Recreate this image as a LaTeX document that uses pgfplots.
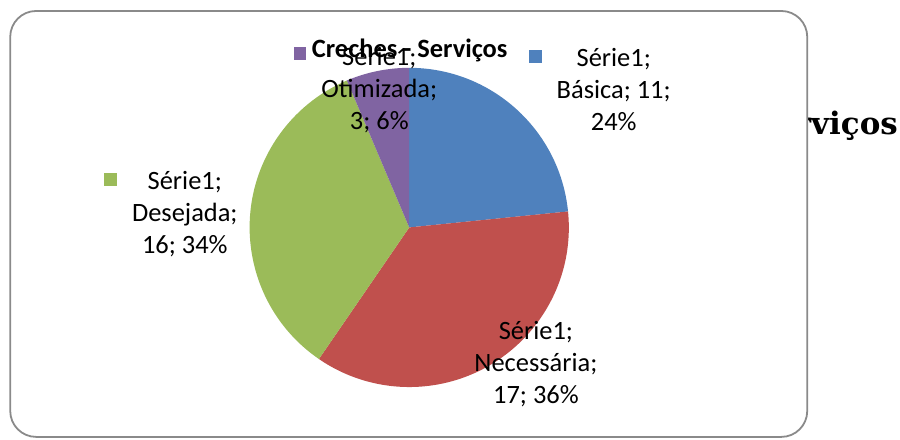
\documentclass[border=0pt]{standalone}
\usepackage{fontspec}
\setmainfont{Carlito}
\newfontfamily\bgserif{DejaVu Serif}
\usepackage{pgfplots}
\usepackage{pgfplotstable}
\pgfplotsset{compat=1.18}
\definecolor{pieblue}{HTML}{4F81BD}
\definecolor{piered}{HTML}{C0504D}
\definecolor{piegreen}{HTML}{9BBB59}
\definecolor{piepurple}{HTML}{8064A2}
\definecolor{framegray}{HTML}{8A8A8A}
\tikzset{lbl/.style={align=center, font=\fontsize{26.5bp}{32bp}\selectfont, text=black, inner sep=0pt}}

\pgfplotstableread{
name value color
Basica 11 pieblue
Necessaria 17 piered
Desejada 16 piegreen
Otimizada 3 piepurple
}\piedata

\begin{document}
\def\total{0}
\pgfplotsforeachungrouped \i in {0,...,3}{%
  \pgfplotstablegetelem{\i}{value}\of\piedata
  \pgfmathsetmacro\total{\total+\pgfplotsretval}}%
\begin{tikzpicture}
\begin{axis}[
  name=ax,
  scale only axis, width=900bp, height=441bp,
  xmin=0, xmax=900, ymin=0, ymax=441,
  hide axis, clip=false,
]
% background document text partly hidden by the chart
\node[anchor=base east, inner sep=0pt, font=\bgserif\bfseries\fontsize{31bp}{34bp}\selectfont] at (axis cs:898,306) {Serviços};
% chart area
\draw[framegray, line width=1.8bp, fill=white, rounded corners=26bp] (axis cs:8,430) rectangle (axis cs:807,3);
% pie slices from the data
\def\angstart{90}
\pgfplotsforeachungrouped \i in {0,...,3}{%
  \pgfplotstablegetelem{\i}{value}\of\piedata \let\v\pgfplotsretval
  \pgfplotstablegetelem{\i}{color}\of\piedata \let\c\pgfplotsretval
  \pgfmathsetmacro\angend{\angstart-360*\v/\total}%
  \edef\temp{\noexpand\fill[\c] (axis cs:408,213) -- ++(\angstart:160bp) arc[start angle=\angstart, end angle=\angend, radius=160bp] -- cycle;}%
  \temp
  \let\angstart\angend
}
% data labels with keys
\fill[pieblue] (axis cs:528.5,391) rectangle (axis cs:541.5,378);
\node[lbl] at (axis cs:613,351) {Série1;\\Básica; 11;\\24\%};
\fill[piepurple] (axis cs:292,394) rectangle (axis cs:305,381);
\node[lbl] at (axis cs:378,351) {Série1;\\Otimizada;\\3; 6\%};
\fill[piegreen] (axis cs:102,268) rectangle (axis cs:115,255);
\node[lbl] at (axis cs:183,226) {Série1;\\Desejada;\\16; 34\%};
\node[lbl] at (axis cs:535,76) {Série1;\\Necessária;\\17; 36\%};
% title
\node[anchor=base, inner sep=0pt, font=\bfseries\fontsize{26.5bp}{30bp}\selectfont] at (axis cs:408.5,383) {Creches - Serviços};
\end{axis}
\pgfresetboundingbox
\path (ax.south west) rectangle (ax.north east);
\end{tikzpicture}
\end{document}
